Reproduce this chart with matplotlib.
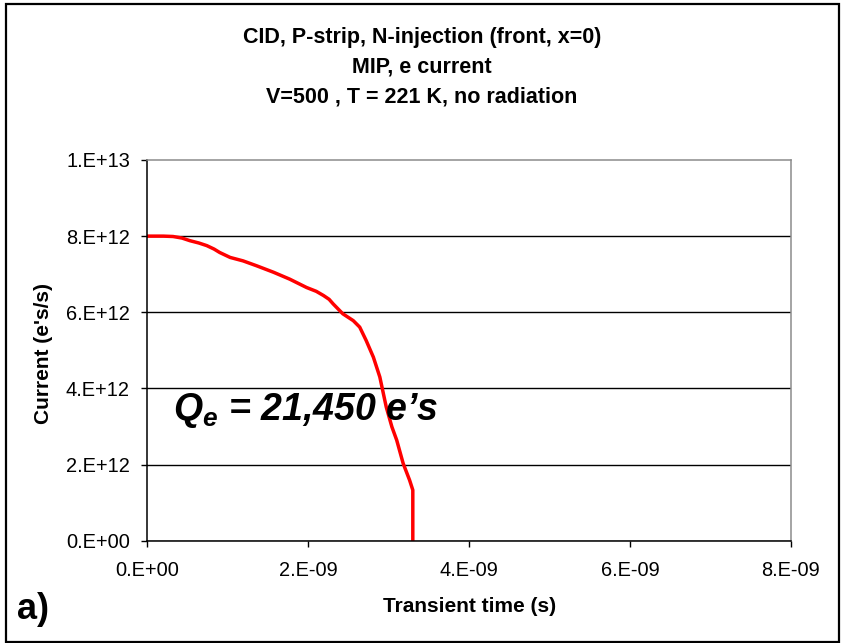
import numpy as np
import matplotlib.pyplot as plt
from matplotlib.ticker import FuncFormatter
from matplotlib.patches import Rectangle

plt.rcParams['font.family'] = ['Liberation Sans', 'DejaVu Sans']
plt.rcParams['mathtext.fontset'] = 'custom'
plt.rcParams['mathtext.it'] = 'Liberation Sans:bold:italic'
plt.rcParams['mathtext.rm'] = 'Liberation Sans:bold:italic'

# electron current transient (time in s, current in e's/s)
t = [0.0, 0.20e-9, 0.32e-9, 0.43e-9, 0.53e-9, 0.64e-9, 0.74e-9, 0.83e-9,
     0.90e-9, 1.03e-9, 1.19e-9, 1.36e-9, 1.57e-9, 1.77e-9, 1.98e-9, 2.10e-9,
     2.19e-9, 2.26e-9, 2.31e-9, 2.43e-9, 2.56e-9, 2.64e-9, 2.72e-9, 2.81e-9,
     2.89e-9, 2.97e-9, 3.04e-9, 3.10e-9, 3.18e-9, 3.26e-9, 3.30e-9, 3.30e-9]
i_e = [8.00e12, 8.00e12, 7.99e12, 7.95e12, 7.88e12, 7.82e12, 7.75e12, 7.66e12,
       7.57e12, 7.44e12, 7.35e12, 7.22e12, 7.05e12, 6.87e12, 6.65e12, 6.55e12,
       6.44e12, 6.34e12, 6.22e12, 5.96e12, 5.78e12, 5.61e12, 5.26e12, 4.82e12,
       4.30e12, 3.51e12, 2.99e12, 2.64e12, 2.03e12, 1.59e12, 1.33e12, 0.0]

x_ticks = [0, 2e-9, 4e-9, 6e-9, 8e-9]
y_ticks = [0, 2e12, 4e12, 6e12, 8e12, 1e13]

title_lines = ["CID, P-strip, N-injection (front, x=0)",
               "MIP, e current",
               "V=500 , T = 221 K, no radiation"]


def excel_sci(v, pos=None):
    # Excel style "2.E-09" labels
    if v == 0:
        return "0.E+00"
    e = int(np.floor(np.log10(abs(v)) + 1e-9))
    m = int(round(v / 10 ** e))
    return f"{m}.E{e:+03d}"


fig = plt.figure(figsize=(8.44, 6.43), dpi=100)
ax = fig.add_axes([0.1745, 0.1591, 0.7627, 0.5921])

ax.plot(t, i_e, color='#ff0000', lw=2.5, solid_joinstyle='round')

ax.set_xlim(0, 8e-9)
ax.set_ylim(0, 1e13)
ax.set_xticks(x_ticks)
ax.set_yticks(y_ticks)
ax.xaxis.set_major_formatter(FuncFormatter(excel_sci))
ax.yaxis.set_major_formatter(FuncFormatter(excel_sci))
ax.tick_params(axis='both', direction='out', length=4.5, width=1,
               labelsize=14.4, colors='black')
ax.tick_params(axis='x', pad=10)
ax.tick_params(axis='y', pad=8)

ax.set_axisbelow(True)
ax.grid(axis='y', color='black', lw=1)
ax.get_ygridlines()[-1].set_visible(False)

for side in ('left', 'bottom'):
    ax.spines[side].set_color('black')
    ax.spines[side].set_linewidth(1.1)
for side in ('top', 'right'):
    ax.spines[side].set_color('#8c8c8c')
    ax.spines[side].set_linewidth(1.1)

ax.set_xlabel("Transient time (s)", fontsize=15, fontweight='bold')
ax.xaxis.set_label_coords(0.5, -0.148)
ax.set_ylabel("Current (e's/s)", fontsize=15, fontweight='bold')
ax.yaxis.set_label_coords(-0.147, 0.493)

# collected charge
ax.text(0.32e-9, 3.16e12, r"$Q_e$ = 21,450 e’s", fontsize=27,
        fontweight='bold', style='italic', va='baseline', ha='left')

for k, line in enumerate(title_lines):
    fig.text(0.5, 1 - (43 + 29.8 * k) / 643, line, fontsize=15.5,
             fontweight='bold', ha='center', va='baseline')

fig.text(17 / 844, 1 - 619 / 643, "a)", fontsize=26, fontweight='bold',
         ha='left', va='baseline')

fig.patches.append(Rectangle((6 / 844, 1 / 643), 833 / 844, 638 / 643,
                             transform=fig.transFigure, fill=False,
                             edgecolor='black', lw=1.6))

fig.savefig("out.png", dpi=100)
